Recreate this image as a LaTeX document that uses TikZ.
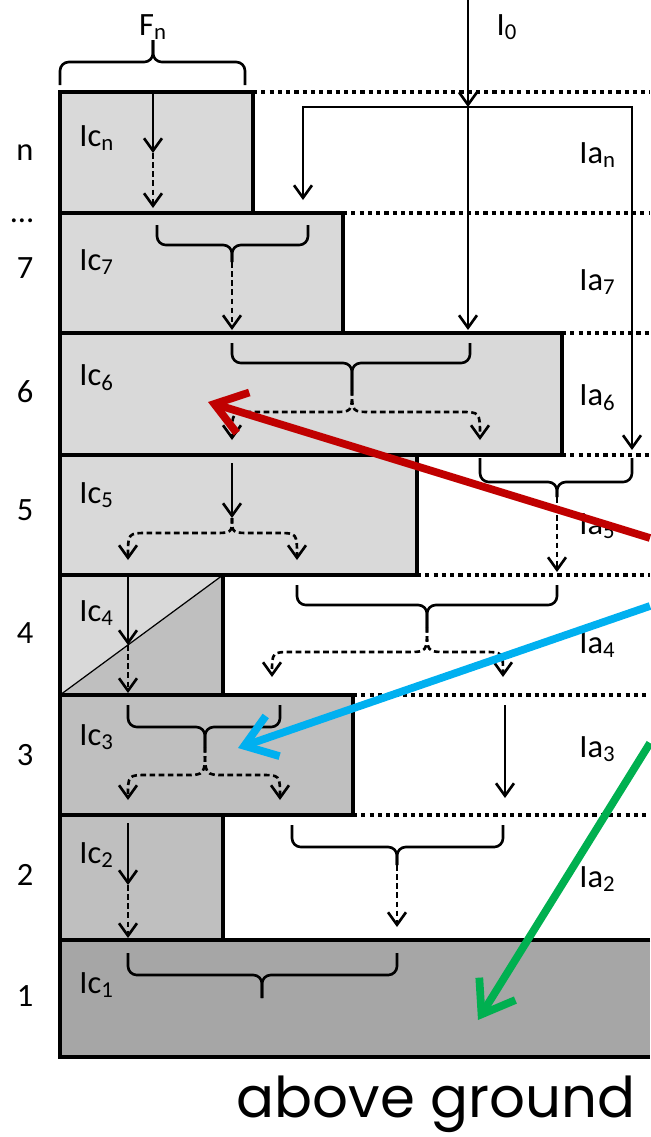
\documentclass[tikz,border=0pt]{standalone}
\usepackage{fontspec}
\setmainfont{Carlito}
\newfontfamily\comicfont{Poppins}
\usetikzlibrary{arrows.meta}
\definecolor{grisclaro}{HTML}{D9D9D9}
\definecolor{grismedio}{HTML}{BFBFBF}
\definecolor{grisoscuro}{HTML}{A6A6A6}
\definecolor{rojo}{HTML}{C00000}
\definecolor{azul}{HTML}{00B0F0}
\definecolor{verde}{HTML}{00B050}

\begin{document}
\begin{tikzpicture}[x=0.02cm,y=-0.02cm,line width=1.5pt,>={Straight Barb[length=2.5mm,width=3.6mm]},
  capa/.style={draw,line width=2.5pt},
  limite/.style={line width=2.5pt,dash pattern=on 2.4pt off 2.3pt},
  llave/.style={rounded corners=5pt},
  flujo/.style={->,dash pattern=on 3.2pt off 2pt},
  etiq/.style={inner sep=0pt,font=\fontsize{18.5}{20}\selectfont},
  rayo/.style={-{Straight Barb[length=6mm,width=8.5mm]},line width=4.4pt}]
  \useasboundingbox (0,0) rectangle (650,1137);
  % relleno de las capas de copa
  \fill[grisclaro] (60,92) rectangle (253,213);
  \fill[grisclaro] (60,213) rectangle (343,333);
  \fill[grisclaro] (60,333) rectangle (562,455);
  \fill[grisclaro] (60,455) rectangle (417,575);
  \fill[grisclaro] (60,575) -- (223,575) -- (60,695) -- cycle;
  \fill[grismedio] (223,575) -- (223,695) -- (60,695) -- cycle;
  \fill[grismedio] (60,695) rectangle (353,815);
  \fill[grismedio] (60,815) rectangle (223,940);
  \fill[grisoscuro] (60,940) rectangle (650,1057);
  % limites de capa en el aire
  \foreach \xa/\ya in {253/92,343/213,562/333,562/455,417/575,353/695,353/815}
     \draw[limite] (\xa,\ya) -- (650,\ya);
  % bordes de las capas
  \foreach \xa/\ya/\yb in {253/92/213,343/213/333,562/333/455,417/455/575,223/575/695,353/695/815,223/815/940}
     \draw[capa] (60,\ya) rectangle (\xa,\yb);
  \draw[capa] (650,940) -- (60,940) -- (60,1057) -- (650,1057);
  \draw[line width=0.7pt] (60,695) -- (223,575);
  % numeros de capa
  \foreach \n/\ya in {n/153,7/268,6/392,5/510,4/633,3/755,2/875,1/996}
     \node[etiq] (num\n) at (25,\ya) {\n};
  \node[etiq,anchor=base] (numpuntos) at (22,222) {…};
  % etiquetas Ic e Ia
  \foreach \n/\ya in {n/138,7/262,6/378,5/495,4/613,3/737,2/855,1/985}
     \node[etiq,anchor=west] (ic\n) at (78,\ya) {Ic\textsubscript{\n}};
  \foreach \n/\ya in {n/155,7/282,6/398,5/526,4/645,3/749,2/879}
     \node[etiq,anchor=west] (ia\n) at (578,\ya) {Ia\textsubscript{\n}};
  \node[etiq] (fn) at (153,27) {F\textsubscript{n}};
  \node[etiq] (i0) at (507,27) {I\textsubscript{0}};
  % flujo incidente
  \draw[->] (468,0) -- (468,107);
  \draw[->] (468,107) -- (303,107) -- (303,200);
  \draw[->] (468,107) -- (632,107) -- (632,450);
  \draw[->] (468,107) -- (468,330);
  % flechas verticales
  \draw[->] (153,92) -- (153,153);
  \draw[flujo] (153,153) -- (153,208);
  \draw[->] (232,463) -- (232,518);
  \draw[->] (128,577) -- (128,645);
  \draw[flujo] (128,645) -- (128,693);
  \draw[->] (128,823) -- (128,885);
  \draw[flujo] (128,885) -- (128,938);
  \draw[->] (505,705) -- (505,798);
  \draw[flujo] (232,262) -- (232,330);
  \draw[flujo] (557,497) -- (557,572);
  \draw[flujo] (397,865) -- (397,927);
  % llaves
  \foreach \xa/\xb/\xm/\ya/\yb/\yc in {60/245/153/85/62/40,157/308/232/225/245/262,232/470/352/343/363/390,480/632/557/458/482/497,297/557/427/585/605/627,128/280/205/705/727/747,292/503/397/825/847/865,128/397/262/953/975/998}
  {
     \draw[llave] (\xa,\ya) -- (\xa,\yb) -- (\xm,\yb) -- (\xm,\yc);
     \draw[llave] (\xb,\ya) -- (\xb,\yb) -- (\xm,\yb) -- (\xm,\yc);
  }
  % bifurcaciones
  \foreach \tx/\ty/\hy/\lx/\rx/\ey in {352/390/412/232/480/440,232/518/533/128/297/560,427/627/652/272/503/677,205/747/775/128/280/800}
  {
     \draw[flujo] (\tx,\ty) .. controls (\tx,\hy) and (\tx,\hy) .. (\tx-20,\hy) -- (\lx+20,\hy) .. controls (\lx,\hy) and (\lx,\hy) .. (\lx,\ey);
     \draw[flujo] (\tx,\ty) .. controls (\tx,\hy) and (\tx,\hy) .. (\tx+20,\hy) -- (\rx-20,\hy) .. controls (\rx,\hy) and (\rx,\hy) .. (\rx,\ey);
  }
  % rayos de colores
  \draw[rayo,rojo] (650,538) -- (208,402);
  \draw[rayo,azul] (650,606) -- (238,748);
  \draw[rayo,verde] (650,743) -- (478,1020);
  \node[font=\comicfont\fontsize{32}{40}\selectfont] (suelo) at (436,1104) {above ground};
\end{tikzpicture}
\end{document}
